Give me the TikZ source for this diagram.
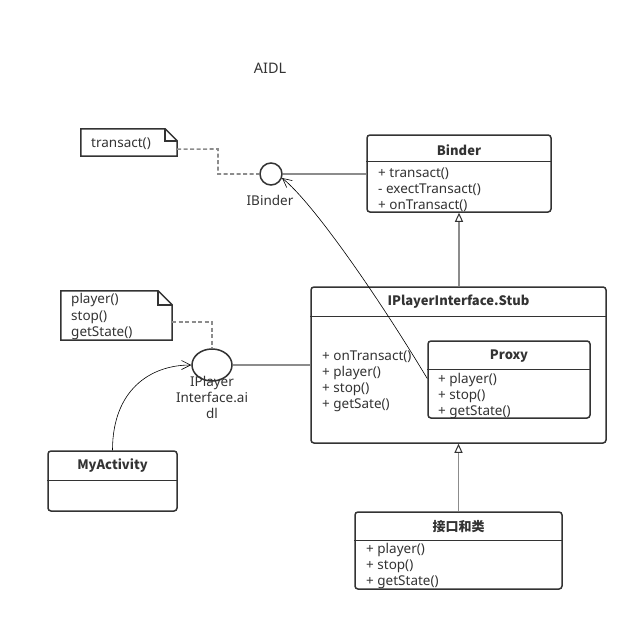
\documentclass[tikz,border=0pt]{standalone}
\usepackage{fontspec}
\setmainfont{Noto Sans}
\newfontfamily\cjk{Noto Sans CJK SC}
\usetikzlibrary{arrows.meta,calc,shapes.geometric}
\definecolor{ink}{HTML}{333333}
\definecolor{conn}{HTML}{8C8C8C}
\begin{document}
\begin{tikzpicture}[x=1pt,y=-1pt,
  every node/.style={font=\fontsize{13.5}{16}\selectfont, text=ink},
  umlbox/.style={draw=ink, line width=1.5pt, rounded corners=3pt, inner sep=0pt, fill=white},
  divider/.style={draw=ink, line width=1.5pt},
  ttl/.style={font=\fontsize{13}{16}\selectfont\cjk\bfseries},
  item/.style={anchor=west, inner sep=0pt, text height=9pt, text depth=3pt, yshift=-1.5pt},
  notebox/.style={draw=ink, line width=1.5pt, fill=white},
  conline/.style={draw=conn, line width=1.8pt},
  dashline/.style={draw=conn, line width=1.6pt, dash pattern=on 4pt off 2.5pt},
  genarrow/.style={draw=conn, line width=1.6pt, -{Triangle[open, length=9pt, width=8pt, line width=1pt, color=ink]}},
  thinarrow/.style={draw=black, line width=0.6pt, -{Straight Barb[length=9pt, width=9pt]}}
]
\useasboundingbox (0,0) rectangle (638,621);
\fill[white] (0,0) rectangle (638,621);

\node[font=\fontsize{14.5}{16}\selectfont] (title) at (270,68) {AIDL};

% Binder
\node[umlbox, minimum width=184pt, minimum height=77pt] (binder) at (459,173.5) {};
\draw[divider] ($(binder.north west)+(0,27)$) -- ($(binder.north east)+(0,27)$);
\node[ttl] (bt) at (459,150) {Binder};
\node[item] (b1) at (378,173) {+ transact()};
\node[item] (b2) at (378,189) {- exectTransact()};
\node[item] (b3) at (378,205) {+ onTransact()};

% Stub
\node[umlbox, minimum width=295pt, minimum height=156pt] (stub) at (458.5,365) {};
\draw[divider] ($(stub.north west)+(0,30)$) -- ($(stub.north east)+(0,30)$);
\node[ttl] (st) at (458.5,302) {IPlayerInterface.Stub};
\node[item] (s1) at (322,356) {+ onTransact()};
\node[item] (s2) at (322,372) {+ player()};
\node[item] (s3) at (322,388) {+ stop()};
\node[item] (s4) at (322,404) {+ getSate()};

% Proxy
\node[umlbox, minimum width=162pt, minimum height=77pt] (proxy) at (509,379.5) {};
\draw[divider] ($(proxy.north west)+(0,29)$) -- ($(proxy.north east)+(0,29)$);
\node[ttl] (pt) at (509,356) {Proxy};
\node[item] (p1) at (438,379) {+ player()};
\node[item] (p2) at (438,395) {+ stop()};
\node[item] (p3) at (438,411) {+ getState()};

% MyActivity
\node[umlbox, minimum width=129pt, minimum height=60pt] (act) at (112.5,481) {};
\draw[divider] ($(act.north west)+(0,30)$) -- ($(act.north east)+(0,30)$);
\node[ttl] (at) at (112.5,466) {MyActivity};

% 接口和类
\node[umlbox, minimum width=207pt, minimum height=77pt] (impl) at (458.5,550.5) {};
\draw[divider] ($(impl.north west)+(0,29)$) -- ($(impl.north east)+(0,29)$);
\node[ttl] (it) at (458.5,527) {接口和类};
\node[item] (i1) at (366,549) {+ player()};
\node[item] (i2) at (366,565) {+ stop()};
\node[item] (i3) at (366,581) {+ getState()};

% interfaces
\node[circle, draw=ink, line width=1.5pt, minimum size=22pt, inner sep=0pt, fill=white] (ib) at (271,174) {};
\node (ibl) at (270,200) {IBinder};
\node[ellipse, draw=ink, line width=1.5pt, minimum width=40pt, minimum height=32pt, inner sep=0pt, fill=white] (el) at (212,365) {};
\node[align=center, inner sep=0pt] (ell) at (212,397) {IPlayer\\Interface.ai\\dl};

% notes
\node[minimum width=96pt, minimum height=27pt, inner sep=0pt] (tn) at (129,142.5) {};
\draw[notebox] (tn.north west) -- ($(tn.north east)+(-12,0)$) -- ($(tn.north east)+(0,12)$) -- (tn.south east) -- (tn.south west) -- cycle;
\draw[ink, line width=1.5pt] ($(tn.north east)+(-12,0)$) -- ($(tn.north east)+(-12,12)$) -- ($(tn.north east)+(0,12)$);
\node[item] (tnt) at (91,143) {transact()};

\node[minimum width=111pt, minimum height=49pt, inner sep=0pt] (pn) at (116.5,315.5) {};
\draw[notebox] (pn.north west) -- ($(pn.north east)+(-14,0)$) -- ($(pn.north east)+(0,14)$) -- (pn.south east) -- (pn.south west) -- cycle;
\draw[ink, line width=1.5pt] ($(pn.north east)+(-14,0)$) -- ($(pn.north east)+(-14,14)$) -- ($(pn.north east)+(0,14)$);
\node[item] (pn1) at (71,299) {player()};
\node[item] (pn2) at (71,316) {stop()};
\node[item] (pn3) at (71,332) {getState()};

% connectors
\coordinate (tnout) at ($(tn.south east)+(0,-7)$);
\coordinate (tnbend) at (218,149);
\draw[dashline] (tnout) -- (tnbend) |- (ib.west);
\coordinate (pnout) at ($(pn.east)+(0,6.5)$);
\draw[dashline] (pnout) -| (el.north);
\draw[conline] (ib.east) -- (ib.east -| binder.west);
\draw[conline] (el.east) -- (el.east -| stub.west);
\draw[genarrow] (stub.north -| binder.south) -- (binder.south);
\draw[genarrow] (impl.north -| stub.south) -- (stub.south);
\coordinate (pxin) at ($(proxy.west)+(0,-1)$);
\draw[thinarrow] (pxin) .. controls (377,295) and (313,203) .. (ib.-20);
\draw[thinarrow] (act.north) .. controls ($(act.north)+(0,-60)$) and (150,365) .. (el.west);
\end{tikzpicture}
\end{document}
